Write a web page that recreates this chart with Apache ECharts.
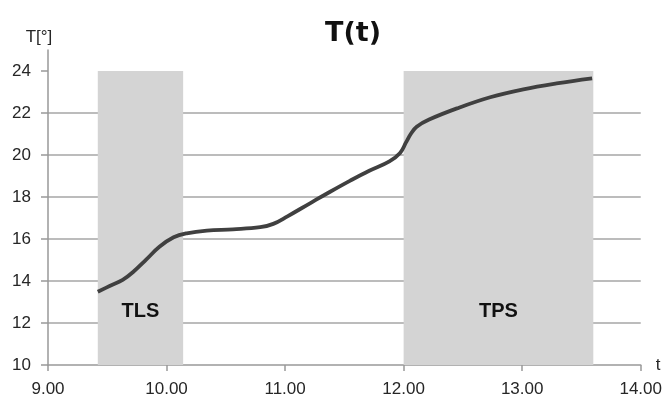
<!DOCTYPE html>
<html>
<head>
<meta charset="utf-8">
<script src="https://cdn.jsdelivr.net/npm/echarts@6/dist/echarts.min.js"></script>
<style>html,body{margin:0;padding:0;background:#fff}#c{width:665px;height:399px}</style>
</head>
<body>
<div id="c"></div>
<script>
var tValues = [9.42, 9.52, 9.63, 9.72, 9.83, 9.94, 10.06, 10.17, 10.34, 10.56, 10.79, 10.90, 11.02, 11.21, 11.38, 11.55, 11.71, 11.88, 11.97, 12.02, 12.06, 12.11, 12.22, 12.45, 12.73, 13.01, 13.29, 13.59];
var TValues = [13.49, 13.76, 14.05, 14.44, 15.03, 15.63, 16.08, 16.27, 16.40, 16.46, 16.56, 16.72, 17.08, 17.70, 18.25, 18.78, 19.25, 19.70, 20.10, 20.60, 21.00, 21.35, 21.70, 22.22, 22.75, 23.13, 23.41, 23.65];
var yTicks = [10, 12, 14, 16, 18, 20, 22, 24];
var bandNames = ['TLS', 'TPS'];
var bandStart = [9.42, 12.0];
var bandEnd = [10.14, 13.6];
var bandLow = 10, bandHigh = 24;

var lineData = tValues.map(function (t, i) { return [t, TValues[i]]; });
var areas = bandNames.map(function (n, i) {
  return [{ name: n, coord: [bandStart[i], bandLow] }, { coord: [bandEnd[i], bandHigh] }];
});

var font = '"Liberation Sans", Arial, sans-serif';
var txt = '#262626';
var chart = echarts.init(document.getElementById('c'), null, { renderer: 'canvas' });
chart.setOption({
  animation: false,
  backgroundColor: '#ffffff',
  title: {
    text: 'T(t)', left: 348, top: 15, textAlign: 'center',
    textStyle: { fontFamily: '"DejaVu Sans", sans-serif', fontWeight: 'bold', fontSize: 27, color: '#111' }
  },
  grid: { left: 48, right: 24, top: 50, bottom: 34, containLabel: false },
  xAxis: {
    type: 'value', min: 9, max: 14, interval: 1,
    name: 't', nameLocation: 'end', nameGap: 15,
    nameTextStyle: { fontFamily: font, fontSize: 17, color: txt, verticalAlign: 'middle', padding: [0, 0, 3, 0] },
    axisLine: { show: true, lineStyle: { color: '#999999', width: 1.5 } },
    axisTick: { show: true, length: 6, inside: false, lineStyle: { color: '#999999', width: 1.5 } },
    axisLabel: { margin: 16, fontFamily: font, fontSize: 17, color: txt, formatter: function (v) { return v.toFixed(2); } },
    splitLine: { show: false }
  },
  yAxis: {
    type: 'value', min: 10, max: 25, interval: 2,
    name: 'T[°]', nameLocation: 'end', nameGap: 4,
    nameTextStyle: { fontFamily: font, fontSize: 17, color: txt, align: 'center', padding: [0, 18, 0, 0] },
    axisLine: { show: true, lineStyle: { color: '#999999', width: 1.5 } },
    axisTick: { show: true, length: 7, customValues: yTicks, lineStyle: { color: '#999999', width: 1.5 } },
    axisLabel: { margin: 17, fontFamily: font, fontSize: 17, color: txt, customValues: yTicks },
    splitLine: { show: true, showMaxLine: false, showMinLine: false, lineStyle: { color: '#a6a6a6', width: 1.5 } }
  },
  series: [{
    type: 'line', data: lineData, smooth: 0.4, showSymbol: false, symbol: 'none',
    lineStyle: { color: '#404040', width: 3.8 },
    z: 5,
    markArea: {
      silent: true,
      itemStyle: { color: '#d4d4d4' },
      label: { show: true, position: 'insideBottom', distance: 44, fontFamily: font, fontWeight: 'bold', fontSize: 20, color: '#111' },
      data: areas
    }
  }]
});
</script>
</body>
</html>
